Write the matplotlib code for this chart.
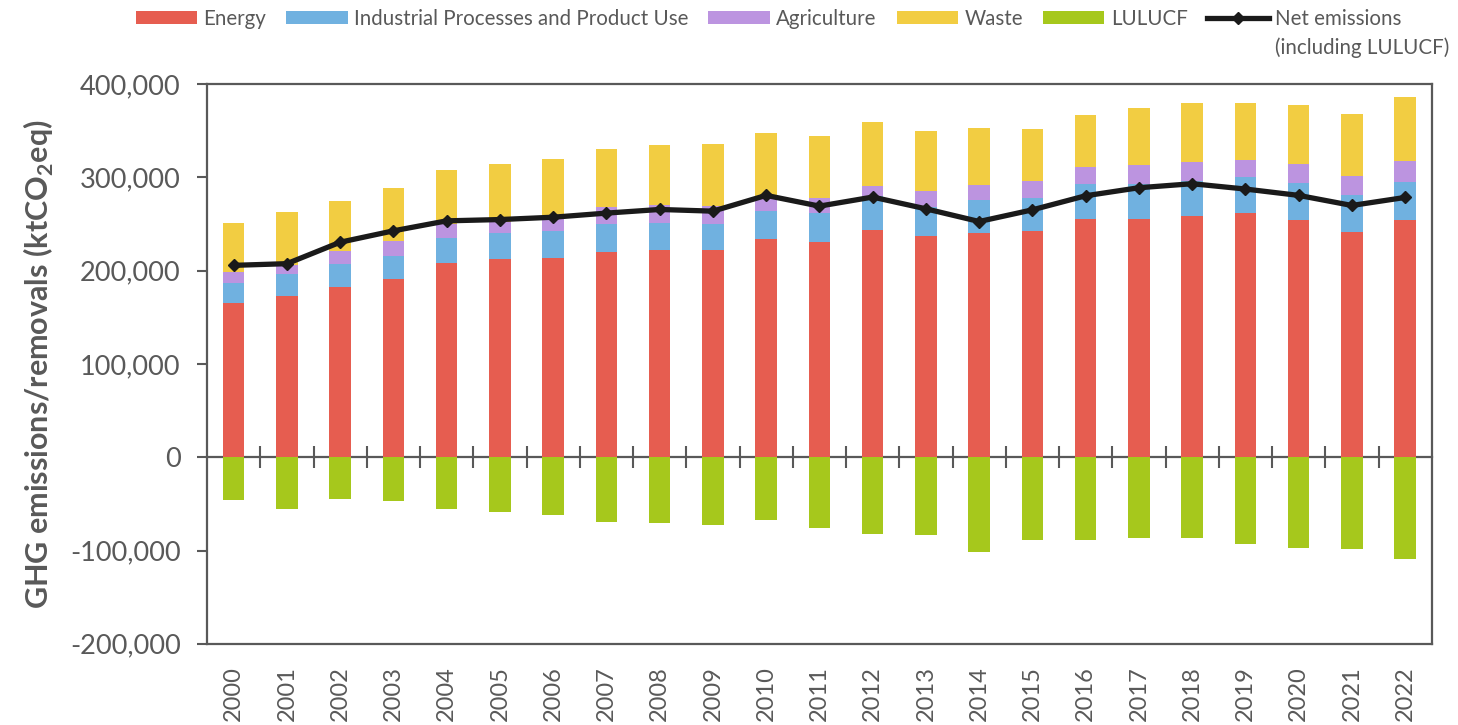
import matplotlib
matplotlib.use('Agg')
import matplotlib.pyplot as plt
import numpy as np

plt.rcParams['font.family'] = ['Lato', 'DejaVu Sans']
plt.rcParams['mathtext.fontset'] = 'custom'
plt.rcParams['mathtext.rm'] = 'Lato'
plt.rcParams['mathtext.bf'] = 'Lato:bold'

# data (ktCO2eq)
years = [str(y) for y in range(2000, 2023)]
energy = [165300, 173100, 182800, 191400, 208600, 212900, 214000, 220100, 222600, 222200,
          234100, 230800, 243700, 237300, 240900, 243000, 255600, 255900, 258100, 261700,
          254100, 241200, 254100]
ippu_top = [186400, 196400, 207500, 216100, 234800, 240900, 242700, 250500, 251600, 250500,
            263800, 262000, 280000, 268500, 275300, 278100, 292500, 292500, 296000, 300000,
            294300, 281400, 295000]
agri_top = [198200, 206400, 221500, 231900, 249500, 252000, 255000, 268500, 269900, 269200,
            278000, 277400, 290700, 285700, 291400, 296000, 310800, 313300, 316500, 318700,
            314000, 301100, 317200]
waste_top = [251300, 262700, 274500, 288200, 307500, 314000, 319400, 330900, 335100, 335500,
             347300, 344400, 359500, 349500, 353400, 352400, 367400, 374600, 379600, 380000,
             377100, 368100, 386400]
lulucf = [-46200, -55600, -45200, -47000, -55200, -59100, -62400, -69200, -70200, -72400,
          -67000, -75600, -82100, -83900, -101400, -88500, -88200, -86400, -87100, -93200,
          -96800, -98900, -108900]
net = [205700, 207500, 230500, 242700, 253400, 254800, 257300, 261700, 265600, 263800,
       280700, 269200, 278900, 266300, 252700, 265200, 280300, 288900, 293200, 287500,
       280700, 269900, 278500]

energy = np.array(energy)
ippu = np.array(ippu_top) - energy
agri = np.array(agri_top) - np.array(ippu_top)
waste = np.array(waste_top) - np.array(agri_top)

c_energy = '#E65D50'
c_ippu = '#70B1E0'
c_agri = '#BC94E0'
c_waste = '#F2CD42'
c_lulucf = '#A6C81C'
grey = '#595959'

fig = plt.figure(figsize=(14.58, 7.25), dpi=100)
ax = fig.add_axes([0.142, 0.112, 0.840, 0.772])

x = np.arange(len(years))
w = 0.405
ax.bar(x, energy, w, color=c_energy, label='Energy', zorder=2)
ax.bar(x, ippu, w, bottom=energy, color=c_ippu, label='Industrial Processes and Product Use', zorder=2)
ax.bar(x, agri, w, bottom=energy + ippu, color=c_agri, label='Agriculture', zorder=2)
ax.bar(x, waste, w, bottom=energy + ippu + agri, color=c_waste, label='Waste', zorder=2)
ax.bar(x, lulucf, w, color=c_lulucf, label='LULUCF', zorder=2)
ax.plot(x, net, color='#1a1a1a', lw=3.8, marker='D', ms=6, label='Net emissions', zorder=4)

ax.set_xlim(-0.5, len(years) - 0.5)
ax.set_ylim(-200000, 400000)
ax.set_yticks(np.arange(-200000, 400001, 100000))
ax.yaxis.set_major_formatter(matplotlib.ticker.FuncFormatter(lambda v, p: f'{int(v):,}'))
ax.set_xticks(x)
ax.set_xticklabels(years, rotation=90)
ax.tick_params(axis='x', length=0, pad=16, labelsize=17, labelcolor=grey)
ax.tick_params(axis='y', length=7, width=1.5, color=grey, direction='out', labelsize=19.5, labelcolor=grey, pad=12)
for s in ax.spines.values():
    s.set_color(grey)
    s.set_linewidth(1.6)

# zero line with ticks between categories
sec = ax.secondary_xaxis(1 / 3)
sec.set_xticks(np.arange(0.5, len(years) - 1, 1))
sec.tick_params(axis='x', direction='inout', length=16, width=1.5, color=grey, labelbottom=False, labeltop=False)
sec.spines['bottom'].set_color(grey)
sec.spines['bottom'].set_linewidth(1.6)
sec.spines['top'].set_visible(False)

ax.set_ylabel(r'GHG emissions/removals (ktCO$_\mathbf{2}$eq)', fontsize=22, fontweight='bold', color=grey, labelpad=10)

# legend: bars first, net line last
h, l = ax.get_legend_handles_labels()
h = h[1:] + h[:1]
l = l[1:] + l[:1]
leg = fig.legend(h, l, loc='upper left', bbox_to_anchor=(0.093, 0.988), ncol=6, frameon=False,
                 fontsize=14.8, handlelength=3.0, handleheight=0.65, columnspacing=0.97,
                 handletextpad=0.3, borderpad=0, borderaxespad=0, labelcolor=grey)

# second line of the net emissions label, aligned under the legend text
fig.canvas.draw()
bb = leg.get_texts()[-1].get_window_extent()
x0 = fig.transFigure.inverted().transform((bb.x0, bb.y0))
fig.text(x0[0], x0[1] - 0.012, '(including LULUCF)', fontsize=14.8, color=grey, ha='left', va='top')

fig.savefig('out.png', dpi=100)
